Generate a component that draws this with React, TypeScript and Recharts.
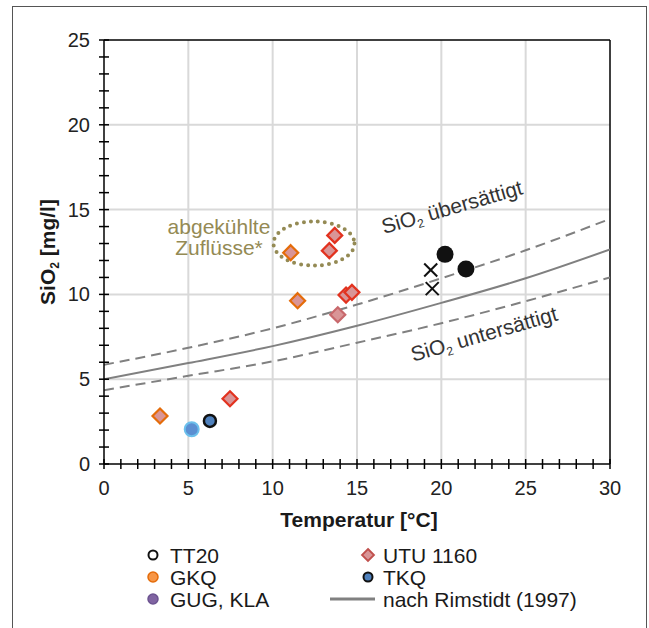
import React from 'react';
import {
  ComposedChart,
  Scatter,
  Line,
  XAxis,
  YAxis,
  CartesianGrid,
  ReferenceLine,
  ReferenceArea,
  Customized,
} from 'recharts';

const FONT = '"Liberation Sans", Arial, Helvetica, sans-serif';

// axis ticks
const tempTicks = [0, 1, 2, 3, 4, 5, 6, 7, 8, 9, 10, 11, 12, 13, 14, 15, 16, 17, 18, 19, 20, 21, 22, 23, 24, 25, 26, 27, 28, 29, 30];
const sioTicks = [0, 1, 2, 3, 4, 5, 6, 7, 8, 9, 10, 11, 12, 13, 14, 15, 16, 17, 18, 19, 20, 21, 22, 23, 24, 25];
const tempLabels = [0, 5, 10, 15, 20, 25, 30];
const sioLabels = [0, 5, 10, 15, 20, 25];
const tempGrid = [5, 10, 15, 20, 25];
const sioGrid = [5, 10, 15, 20];

// solubility curves
const curveT = [0, 5, 10, 15, 20, 25, 30];
const rimstidtSiO2 = [5.0, 5.95, 6.95, 8.15, 9.5, 10.95, 12.65];
const upperSiO2 = [5.85, 6.85, 8.0, 9.4, 10.95, 12.6, 14.45];
const lowerSiO2 = [4.35, 5.2, 6.05, 7.15, 8.3, 9.6, 11.0];

// samples
const gkqT = [3.32, 11.07, 11.48];
const gkqSiO2 = [2.83, 12.46, 9.63];
const utuT = [7.47, 13.36, 13.68, 14.35, 14.7];
const utuSiO2 = [3.85, 12.58, 13.48, 9.96, 10.12];
const utuPaleT = [13.86];
const utuPaleSiO2 = [8.8];
const lightBlueT = [5.2];
const lightBlueSiO2 = [2.05];
const tkqT = [6.28];
const tkqSiO2 = [2.54];
const blackT = [20.22, 21.46];
const blackSiO2 = [12.36, 11.5];
const crossT = [19.37, 19.46];
const crossSiO2 = [11.44, 10.34];

// "abgekühlte Zuflüsse" ellipse extent
const coolT = [10.05, 14.85];
const coolSiO2 = [11.7, 14.3];

const legendLabels = ['TT20', 'GKQ', 'GUG, KLA', 'UTU 1160', 'TKQ', 'nach Rimstidt (1997)'];

const pts = (xs: number[], ys: number[]) => xs.map((x, i) => ({ x, y: ys[i] }));

const diamond = (stroke: string) => (p: any) => {
  const { cx, cy } = p;
  const r = 7.5;
  return (
    <path
      d={`M${cx},${cy - r}L${cx + r},${cy}L${cx},${cy + r}L${cx - r},${cy}Z`}
      fill="#d99597"
      stroke={stroke}
      strokeWidth={2.2}
      strokeLinejoin="miter"
    />
  );
};

const circle = (r: number, fill: string, stroke: string, sw: number) => (p: any) => (
  <circle cx={p.cx} cy={p.cy} r={r} fill={fill} stroke={stroke} strokeWidth={sw} />
);

const cross = (p: any) => {
  const { cx, cy } = p;
  const s = 6.5;
  return (
    <g stroke="#111" strokeWidth={2}>
      <line x1={cx - s} y1={cy - s} x2={cx + s} y2={cy + s} />
      <line x1={cx - s} y1={cy + s} x2={cx + s} y2={cy - s} />
    </g>
  );
};

const XTick = (props: any) => {
  const { x, y, payload } = props;
  const v = payload.value;
  return (
    <g>
      <line x1={x} x2={x} y1={y - 5} y2={y + 5} stroke="#000" strokeWidth={1.5} />
      {tempLabels.includes(v) && (
        <text x={x} y={y + 31} textAnchor="middle" fontSize={20} fontFamily={FONT} fill="#222">
          {v}
        </text>
      )}
    </g>
  );
};

const YTick = (props: any) => {
  const { x, y, payload } = props;
  const v = payload.value;
  return (
    <g>
      <line x1={x - 5} x2={x + 5} y1={y} y2={y} stroke="#000" strokeWidth={1.5} />
      {sioLabels.includes(v) && (
        <text x={x - 14} y={y + 7} textAnchor="end" fontSize={20} fontFamily={FONT} fill="#222">
          {v}
        </text>
      )}
    </g>
  );
};

const legendMarkers = [
  (cx: number, cy: number) => <circle cx={cx} cy={cy} r={4.5} fill="#fff" stroke="#111" strokeWidth={2} />,
  (cx: number, cy: number) => <circle cx={cx} cy={cy} r={5} fill="#f79646" stroke="#e46c0a" strokeWidth={1.5} />,
  (cx: number, cy: number) => <circle cx={cx} cy={cy} r={5} fill="#8064a2" stroke="#6c5390" strokeWidth={1.5} />,
  (cx: number, cy: number) => (
    <path d={`M${cx},${cy - 6}L${cx + 6},${cy}L${cx},${cy + 6}L${cx - 6},${cy}Z`} fill="#d99597" stroke="#c0504d" strokeWidth={1.8} />
  ),
  (cx: number, cy: number) => <circle cx={cx} cy={cy} r={4.5} fill="#4f81bd" stroke="#111" strokeWidth={2} />,
  (cx: number, cy: number) => <line x1={cx - 38} x2={cx + 7} y1={cy} y2={cy} stroke="#808080" strokeWidth={3} />,
];

function Overlay() {
  const rows = [555, 577, 599];
  return (
    <g fontFamily={FONT}>
      {/* axis titles */}
      <text transform="translate(55,252) rotate(-90)" textAnchor="middle" fontSize={21} fontWeight="bold" fill="#1a1a1a">
        SiO<tspan fontSize={12} dy={4}>2</tspan>
        <tspan dy={-4}>{' [mg/l]'}</tspan>
      </text>
      <text x={359} y={527} textAnchor="middle" fontSize={21} fontWeight="bold" fill="#1a1a1a">
        Temperatur [°C]
      </text>

      {/* annotations */}
      <text x={219} y={233.5} textAnchor="middle" fontSize={21} fill="#948a54">abgekühlte</text>
      <text x={219} y={255} textAnchor="middle" fontSize={21} fill="#948a54">Zuflüsse*</text>
      <text transform="translate(454,214) rotate(-16)" textAnchor="middle" fontSize={21} fill="#333">
        SiO<tspan fontSize={12} dy={4}>2</tspan>
        <tspan dy={-4}>{' übersättigt'}</tspan>
      </text>
      <text transform="translate(486,341) rotate(-16)" textAnchor="middle" fontSize={21} fill="#333">
        SiO<tspan fontSize={12} dy={4}>2</tspan>
        <tspan dy={-4}>{' untersättigt'}</tspan>
      </text>

      {/* legend */}
      {legendLabels.map((label, i) => {
        const col = i < 3 ? 0 : 1;
        const cy = rows[i % 3];
        const cx = col === 0 ? 153 : 368;
        const tx = col === 0 ? 170 : 383;
        return (
          <g key={label}>
            {legendMarkers[i](cx, cy)}
            <text x={tx} y={cy + 7.5} fontSize={21} fill="#1a1a1a">
              {label}
            </text>
          </g>
        );
      })}
    </g>
  );
}

export default function App() {
  return (
    <div
      style={{
        position: 'absolute',
        left: 0,
        top: 0,
        width: 649,
        height: 628,
        overflow: 'hidden',
        background: '#fff',
        fontFamily: FONT,
      }}
    >
      <div
        style={{
          position: 'absolute',
          left: 12,
          top: 6,
          width: 635,
          height: 700,
          border: '1.5px solid #555',
          boxSizing: 'border-box',
        }}
      />
      <div style={{ position: 'absolute', left: 0, top: 0 }}>
        <ComposedChart width={649} height={628} margin={{ top: 40, right: 39, left: 44, bottom: 124 }}>
          <CartesianGrid
            stroke="#d9d9d9"
            strokeWidth={2}
            verticalValues={tempGrid}
            horizontalValues={sioGrid}
          />
          <XAxis
            type="number"
            dataKey="x"
            domain={[0, 30]}
            ticks={tempTicks}
            interval={0}
            height={40}
            tickSize={0}
            tickMargin={0}
            tickLine={false}
            axisLine={{ stroke: '#000', strokeWidth: 1.5 }}
            tick={<XTick />}
            allowDataOverflow
          />
          <YAxis
            type="number"
            dataKey="y"
            domain={[0, 25]}
            ticks={sioTicks}
            interval={0}
            width={60}
            tickSize={0}
            tickMargin={0}
            tickLine={false}
            axisLine={{ stroke: '#000', strokeWidth: 1.5 }}
            tick={<YTick />}
            allowDataOverflow
          />
          <ReferenceLine y={25} stroke="#000" strokeWidth={1.5} />
          <ReferenceLine x={30} stroke="#000" strokeWidth={1.5} />

          <Line data={pts(curveT, upperSiO2)} dataKey="y" type="monotone" stroke="#808080" strokeWidth={2} strokeDasharray="10 6" dot={false} activeDot={false} isAnimationActive={false} />
          <Line data={pts(curveT, lowerSiO2)} dataKey="y" type="monotone" stroke="#808080" strokeWidth={2} strokeDasharray="10 6" dot={false} activeDot={false} isAnimationActive={false} />
          <Line data={pts(curveT, rimstidtSiO2)} dataKey="y" type="monotone" stroke="#808080" strokeWidth={2} dot={false} activeDot={false} isAnimationActive={false} />

          <ReferenceArea
            x1={coolT[0]}
            x2={coolT[1]}
            y1={coolSiO2[0]}
            y2={coolSiO2[1]}
            shape={(p: any) => (
              <ellipse
                cx={p.x + p.width / 2}
                cy={p.y + p.height / 2}
                rx={Math.abs(p.width) / 2}
                ry={Math.abs(p.height) / 2}
                fill="none"
                stroke="#948a54"
                strokeWidth={4}
                strokeDasharray="0 7"
                strokeLinecap="round"
              />
            )}
          />

          <Scatter data={pts(lightBlueT, lightBlueSiO2)} dataKey="y" shape={circle(7, '#5b8fd2', '#6cc0ec', 2)} isAnimationActive={false} />
          <Scatter data={pts(tkqT, tkqSiO2)} dataKey="y" shape={circle(6, '#4f81bd', '#111', 2.5)} isAnimationActive={false} />
          <Scatter data={pts(gkqT, gkqSiO2)} dataKey="y" shape={diamond('#e46c0a')} isAnimationActive={false} />
          <Scatter data={pts(utuPaleT, utuPaleSiO2)} dataKey="y" shape={diamond('#c8686c')} isAnimationActive={false} />
          <Scatter data={pts(utuT, utuSiO2)} dataKey="y" shape={diamond('#e2321f')} isAnimationActive={false} />
          <Scatter data={pts(crossT, crossSiO2)} dataKey="y" shape={cross} isAnimationActive={false} />
          <Scatter data={pts(blackT, blackSiO2)} dataKey="y" shape={circle(8.5, '#111', '#111', 0)} isAnimationActive={false} />

          <Customized component={Overlay} />
        </ComposedChart>
      </div>
    </div>
  );
}
